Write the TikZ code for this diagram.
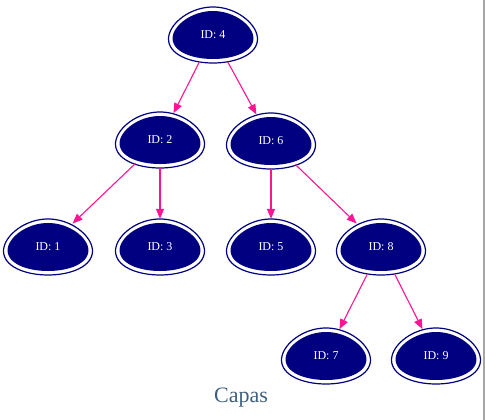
\documentclass[tikz,border=0pt]{standalone}
\usepackage{fontspec}
\setmainfont{Liberation Serif}
\usetikzlibrary{arrows.meta,shapes.geometric,backgrounds}
\definecolor{eggblue}{RGB}{0,0,128}
\definecolor{edgepink}{RGB}{255,20,147}
\definecolor{labelblue}{RGB}{62,95,128}
\definecolor{rimgray}{RGB}{165,165,165}
\tikzset{
% Egg nodes with a double outline, and the pink tree edges
egg node/.style={ellipse,minimum width=88pt,minimum height=56pt,inner sep=0pt,text=white,font=\fontsize{12}{13}\selectfont},
tree edge/.style={draw=edgepink,line width=1.1pt,-{Triangle[length=10pt,width=8pt]}}
}
% Egg outline round a named node: white ring, then the filled egg
\newcommand{\eggshape}[1]{%
\draw[eggblue,line width=1.2pt,fill=white,shift={(#1)}] plot[domain=0:360,samples=73] ({44*cos(\x)*(1+0.15*sin(\x))},{28*sin(\x)}) -- cycle;
\fill[eggblue,shift={(#1)}] plot[domain=0:360,samples=73] ({40*cos(\x)*(1+0.15*sin(\x))},{24*sin(\x)}) -- cycle;
}

\begin{document}
\begin{tikzpicture}[x=1pt,y=-1pt]
\useasboundingbox (0,0) rectangle (485,420);
% The Tree
\node[egg node] (id4) at (213,35) {ID: 4};
\node[egg node] (id2) at (160,140) {ID: 2};
\node[egg node] (id6) at (271,141) {ID: 6};
\node[egg node] (id1) at (48,247) {ID: 1};
\node[egg node] (id3) at (160,247) {ID: 3};
\node[egg node] (id5) at (271,247) {ID: 5};
\node[egg node] (id8) at (381,247) {ID: 8};
\node[egg node] (id7) at (326,356) {ID: 7};
\node[egg node] (id9) at (436,356) {ID: 9};
\node[text=labelblue,font=\fontsize{22}{24}\selectfont] (capas) at (241,398) {Capas};
% eggs behind the labels
\begin{scope}[on background layer]
\foreach \n in {4,2,6,1,3,5,8,7,9} {\eggshape{id\n}}
\end{scope}
% edges
\foreach \a/\b in {id4/id2,id4/id6,id2/id1,id2/id3,id6/id5,id6/id8,id8/id7,id8/id9}
\path[tree edge] (\a) -- (\b);
% right rim
\draw[rimgray,line width=1.2pt] (484,0) -- (484,420);
\end{tikzpicture}
\end{document}
